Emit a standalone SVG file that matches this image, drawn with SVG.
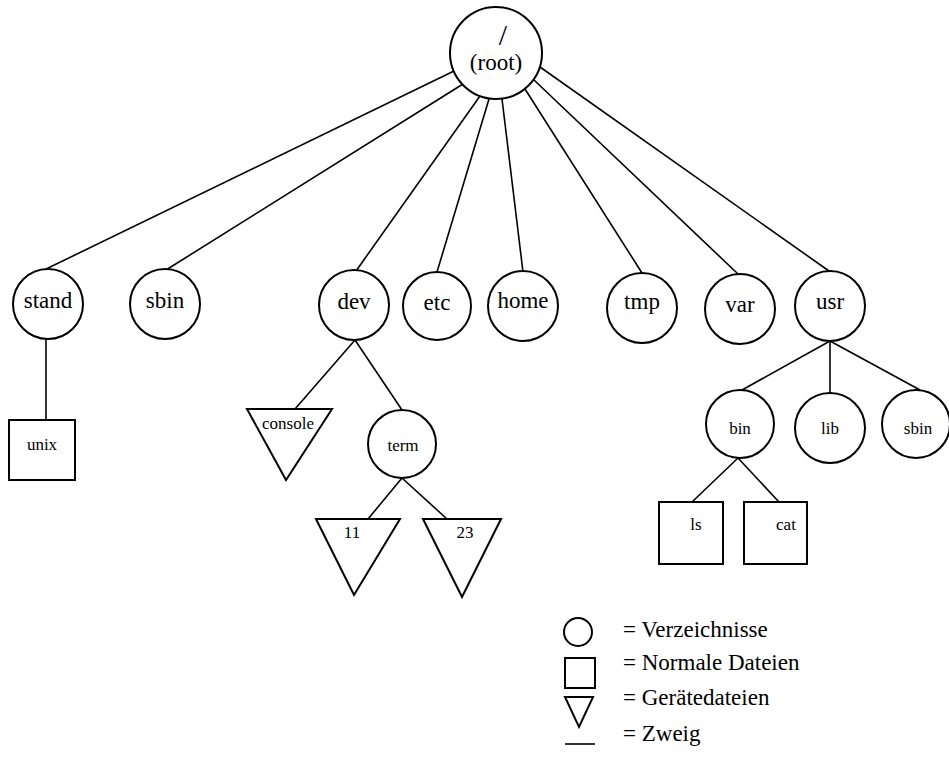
<svg xmlns="http://www.w3.org/2000/svg" width="949" height="766" viewBox="0 0 949 766">
<style>
  .shape { fill: #fff; stroke: #000; stroke-width: 2; }
  .edge { stroke: #000; stroke-width: 1.6; fill: none; }
  .big { font-family: "Liberation Serif", "Times New Roman", serif; font-size: 23px; fill: #000; text-anchor: middle; }
  .small { font-family: "Liberation Serif", "Times New Roman", serif; font-size: 17px; fill: #000; text-anchor: middle; }
  .leg { font-family: "Liberation Serif", "Times New Roman", serif; font-size: 23px; fill: #000; }
</style>
<rect width="949" height="766" fill="#fff"/>
<g id="connectors">
  <line class="edge" x1="454" y1="71" x2="44" y2="270"/>
  <line class="edge" x1="463" y1="84" x2="166" y2="270"/>
  <line class="edge" x1="480" y1="96" x2="356" y2="271"/>
  <line class="edge" x1="489" y1="99" x2="437" y2="272"/>
  <line class="edge" x1="502" y1="99" x2="523" y2="272"/>
  <line class="edge" x1="525" y1="89" x2="642" y2="273"/>
  <line class="edge" x1="534" y1="80" x2="738" y2="274"/>
  <line class="edge" x1="540" y1="67" x2="829" y2="271"/>
  <line class="edge" x1="46" y1="339" x2="46" y2="420"/>
  <line class="edge" x1="355" y1="340" x2="295" y2="409"/>
  <line class="edge" x1="355" y1="340" x2="402" y2="410"/>
  <line class="edge" x1="402" y1="478" x2="368" y2="519"/>
  <line class="edge" x1="402" y1="478" x2="447" y2="519"/>
  <line class="edge" x1="830" y1="341" x2="742" y2="390"/>
  <line class="edge" x1="830" y1="341" x2="830" y2="393"/>
  <line class="edge" x1="830" y1="341" x2="920" y2="390"/>
  <line class="edge" x1="738" y1="458" x2="692" y2="502"/>
  <line class="edge" x1="738" y1="458" x2="779" y2="502"/>
</g>
<g id="root">
  <circle class="shape" cx="496" cy="53" r="46"/>
  <text class="big" x="503" y="45" style="font-size:30px">/</text>
  <text class="big" x="496" y="70">(root)</text>
</g>
<g id="stand">
  <circle class="shape" cx="48" cy="304" r="35"/>
  <text class="big" x="48" y="308">stand</text>
</g>
<g id="sbin">
  <circle class="shape" cx="165" cy="304" r="35"/>
  <text class="big" x="165" y="308">sbin</text>
</g>
<g id="dev">
  <circle class="shape" cx="354" cy="305" r="35"/>
  <text class="big" x="354" y="309">dev</text>
</g>
<g id="etc">
  <circle class="shape" cx="437" cy="306" r="34"/>
  <text class="big" x="437" y="310">etc</text>
</g>
<g id="home">
  <circle class="shape" cx="523" cy="306" r="35"/>
  <text class="big" x="523" y="308">home</text>
</g>
<g id="tmp">
  <circle class="shape" cx="642" cy="308" r="35"/>
  <text class="big" x="642" y="309">tmp</text>
</g>
<g id="var">
  <circle class="shape" cx="740" cy="309" r="35"/>
  <text class="big" x="740" y="312">var</text>
</g>
<g id="usr">
  <circle class="shape" cx="830" cy="306" r="35"/>
  <text class="big" x="830" y="309">usr</text>
</g>
<g id="unix">
  <rect class="shape" x="9" y="420" width="66" height="60"/>
  <text class="small" x="42" y="450">unix</text>
</g>
<g id="console">
  <polygon class="shape" points="247,409 332,409 286,480"/>
  <text class="small" x="288" y="429">console</text>
</g>
<g id="term">
  <circle class="shape" cx="402" cy="444" r="34"/>
  <text class="small" x="403" y="451">term</text>
</g>
<g id="dev11">
  <polygon class="shape" points="316,519 400,519 354,595"/>
  <text class="small" x="352" y="538">11</text>
</g>
<g id="dev23">
  <polygon class="shape" points="423,519 501,519 462,597"/>
  <text class="small" x="465" y="538">23</text>
</g>
<g id="bin">
  <circle class="shape" cx="740" cy="424" r="34"/>
  <text class="small" x="740" y="434">bin</text>
</g>
<g id="lib">
  <circle class="shape" cx="830" cy="428" r="35"/>
  <text class="small" x="830" y="434">lib</text>
</g>
<g id="usrsbin">
  <circle class="shape" cx="916" cy="424" r="34"/>
  <text class="small" x="918" y="434">sbin</text>
</g>
<g id="ls">
  <rect class="shape" x="659" y="502" width="64" height="62"/>
  <text class="small" x="696" y="530">ls</text>
</g>
<g id="cat">
  <rect class="shape" x="744" y="502" width="63" height="62"/>
  <text class="small" x="786" y="530">cat</text>
</g>
<g id="legend">
  <circle class="shape" cx="578" cy="632" r="14"/>
  <text class="leg" x="623" y="637">= Verzeichnisse</text>
  <rect class="shape" x="565" y="658" width="30" height="30"/>
  <text class="leg" x="623" y="670">= Normale Dateien</text>
  <polygon class="shape" points="565,697 593,697 579,727"/>
  <text class="leg" x="623" y="705">= Gerätedateien</text>
  <line class="edge" x1="565" y1="744" x2="595" y2="744"/>
  <text class="leg" x="623" y="741">= Zweig</text>
</g>
</svg>
